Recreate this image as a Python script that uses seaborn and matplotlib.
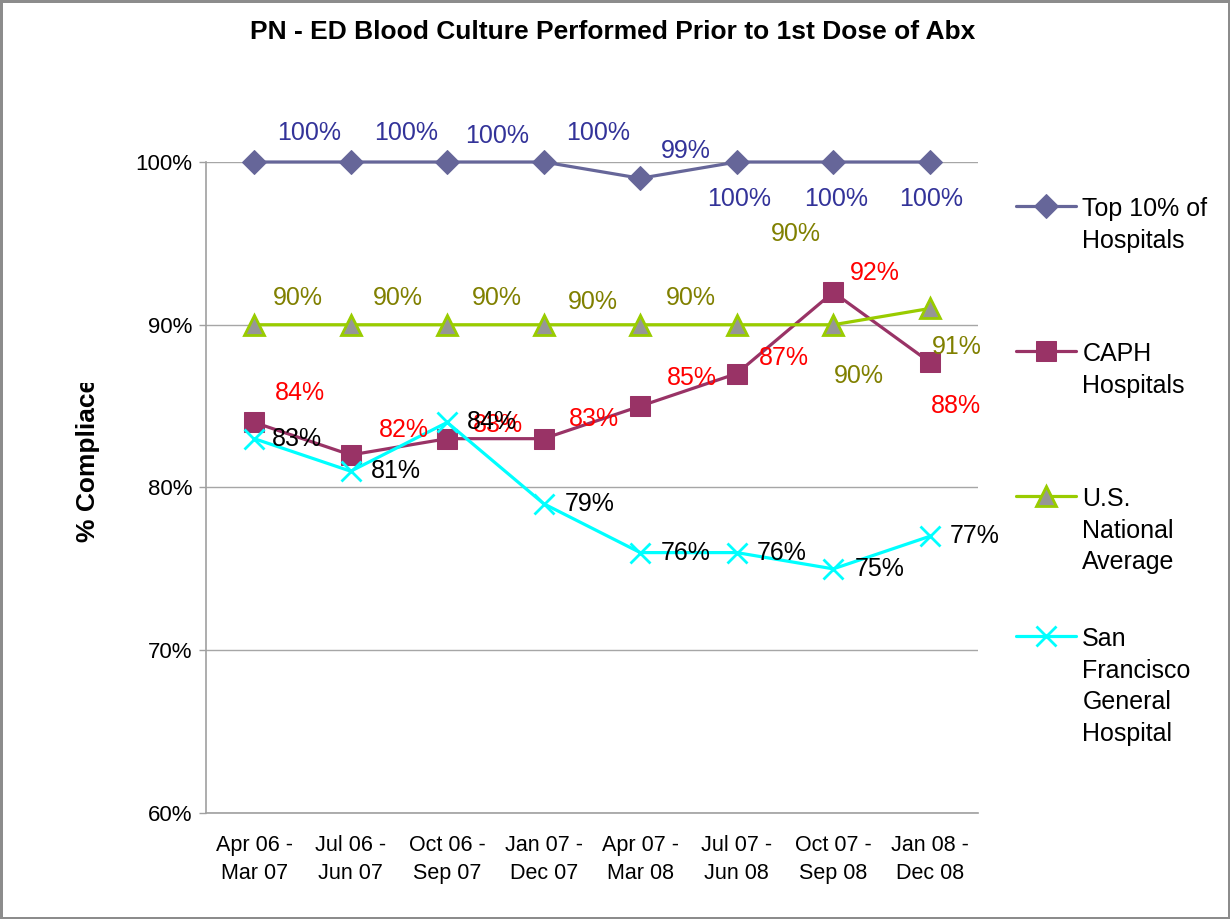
import numpy as np
import pandas as pd
import seaborn as sns
import matplotlib.pyplot as plt
from matplotlib.patches import Rectangle

# reporting periods (x categories)
periods = ['Apr 06 -\nMar 07', 'Jul 06 -\nJun 07', 'Oct 06 -\nSep 07', 'Jan 07 -\nDec 07',
           'Apr 07 -\nMar 08', 'Jul 07 -\nJun 08', 'Oct 07 -\nSep 08', 'Jan 08 -\nDec 08']

# % compliance per series
top10 = [100, 100, 100, 100, 99, 100, 100, 100]
caph = [84, 82, 83, 83, 85, 87, 92, 87.7]
us_avg = [90, 90, 90, 90, 90, 90, 90, 91]
sfgh = [83, 81, 84, 79, 76, 76, 75, 77]

series_names = ['Top 10% of\nHospitals', 'CAPH\nHospitals',
                'U.S.\nNational\nAverage', 'San\nFrancisco\nGeneral\nHospital']
yticks = [60, 70, 80, 90, 100]

sns.set_theme(style='white')
plt.rcParams['font.family'] = ['Liberation Sans', 'DejaVu Sans']
for key in ['text.color', 'axes.labelcolor', 'xtick.color', 'ytick.color']:
    plt.rcParams[key] = 'black'

fig = plt.figure(figsize=(12.3, 9.19), dpi=100)
fig.patch.set_edgecolor('#8c8c8c')
fig.patch.set_linewidth(2.5)
ax = fig.add_axes([206 / 1230, 1 - 813 / 919, 772 / 1230, 651 / 919])

x = np.arange(len(periods))
styles = [
    dict(color='#666699', marker='D', markersize=12, markeredgecolor='#666699', markerfacecolor='#666699'),
    dict(color='#993366', marker='s', markersize=14, markeredgecolor='#993366', markerfacecolor='#993366'),
    dict(color='#99cc00', marker='^', markersize=15, markeredgecolor='#99cc00', markerfacecolor='#969696',
         markeredgewidth=2),
    dict(color='#00ffff', marker='x', markersize=14, markeredgecolor='#00ffff', markeredgewidth=2),
]
label_colors = ['#333399', '#ff0000', '#808000', '#000000']
# data label offsets (pixels) as placed in the original workbook
offsets = [
    [(55, 29), (55, 29), (50, 26), (54, 29), (46, 27), (2, -37), (3, -37), (1, -37)],
    [(46, 29), (53, 25), (51, 14), (50, 20), (52, 28), (47, 16), (42, 19), (26, -44)],
    [(44, 27), (47, 27), (50, 27), (49, 23), (51, 27), (59, 91), (26, -51), (27, -39)],
    [(43, 0), (45, 0), (45, 0), (46, 0), (45, 0), (45, 0), (46, 0), (45, 0)],
]

handles = []
for vals, name, st, lc, offs in zip([top10, caph, us_avg, sfgh], series_names, styles, label_colors, offsets):
    df = pd.DataFrame({'period': x, 'pct': vals})
    sns.lineplot(data=df, x='period', y='pct', ax=ax, linewidth=2.3, sort=False,
                 clip_on=False, label=name, **st)
    handles.append(ax.lines[-1])
    for xi, v, (dx, dy) in zip(x, vals, offs):
        ax.annotate(f'{v:.0f}%', (xi, v), xytext=(dx, dy), textcoords='offset pixels',
                    ha='center', va='center', fontsize=18, color=lc, annotation_clip=False)

ax.legend_.remove()

ax.set_xlim(-0.5, len(periods) - 0.5)
ax.set_ylim(60, 100)
ax.set_xticks(x)
ax.set_xticklabels(periods)
ax.set_xticks(np.arange(-0.5, len(periods), 1), minor=True)
ax.tick_params(axis='x', which='major', length=0, pad=16, labelsize=15.5)
ax.tick_params(axis='x', which='minor', length=5, width=1, color='#a0a0a0', direction='out')
for lbl in ax.get_xticklabels():
    lbl.set_linespacing(1.4)
ax.set_yticks(yticks)
ax.set_yticklabels([f'{v}%' for v in yticks])
ax.tick_params(axis='y', length=5, width=1, color='#a0a0a0', pad=5, labelsize=16, left=True)
ax.set_xlabel('')
ax.set_ylabel('')
ax.grid(axis='y', color='#a6a6a6', linewidth=1)
ax.grid(axis='x', visible=False)
for side in ['top', 'right']:
    ax.spines[side].set_visible(False)
for side in ['left', 'bottom']:
    ax.spines[side].set_color('#a0a0a0')
    ax.spines[side].set_linewidth(1.2)

fig.text(613 / 1230, 1 - 32 / 919, 'PN - ED Blood Culture Performed Prior to 1st Dose of Abx',
         ha='center', va='center', fontsize=19, fontweight='bold')

ylab = fig.text(88 / 1230, 1 - 542 / 919, '% Compliace', rotation=90, ha='center', va='bottom',
                fontsize=19, fontweight='bold')
ylab.set_clip_path(Rectangle((0, 0), 1, 1 - 383 / 919, transform=fig.transFigure))

legend_tops = [207, 352, 497, 637]
for h, name, top in zip(handles, series_names, legend_tops):
    leg = fig.legend([h], [name], loc='upper left', bbox_to_anchor=(1016 / 1230, 1 - (top - 10) / 919),
                     frameon=False, fontsize=18, handlelength=2.4, handletextpad=0.25,
                     borderpad=0, borderaxespad=0)
    for t in leg.get_texts():
        t.set_linespacing(1.4)
    # put the marker beside the first line of a wrapped label
    for col in leg._legend_handle_box.get_children():
        for row in col.get_children():
            row.align = 'top'

fig.savefig('out.png', dpi=100)
